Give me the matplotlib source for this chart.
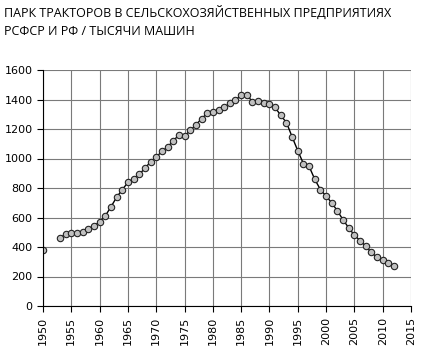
import numpy as np
import matplotlib
matplotlib.use("Agg")
import matplotlib.pyplot as plt

# tractor fleet, thousand units
years = [1950] + list(range(1953, 2013))
tractors = [
    381,
    462, 487, 496, 494, 505, 525, 543, 570, 611, 672,
    737, 789, 838, 863, 893, 933, 978, 1010, 1048, 1077,
    1120, 1159, 1152, 1190, 1228, 1269, 1307, 1314, 1330, 1346,
    1375, 1397, 1429, 1429, 1386, 1391, 1377, 1368, 1346, 1292,
    1244, 1147, 1053, 965, 947, 859, 789, 746, 699, 645,
    584, 530, 480, 444, 406, 363, 329, 311, 291, 273,
]
title = "ПАРК ТРАКТОРОВ В СЕЛЬСКОХОЗЯЙСТВЕННЫХ ПРЕДПРИЯТИЯХ\nРСФСР И РФ / ТЫСЯЧИ МАШИН"

# 1951-1952 missing -> break the line after 1950
x = np.array([1950, np.nan] + years[1:], dtype=float)
y = np.array([tractors[0], np.nan] + tractors[1:], dtype=float)

fig = plt.figure(figsize=(4.32, 3.63), dpi=100)
ax = fig.add_axes([43 / 432, 57 / 363, 368 / 432, 236 / 363])

ax.plot(x, y, color="black", lw=1.0, marker="o", markersize=4.6,
        markerfacecolor="#c0c0c0", markeredgecolor="#222222", markeredgewidth=0.8)

ax.set_xlim(1950, 2015)
ax.set_ylim(0, 1600)
ax.set_xticks(range(1950, 2016, 5))
ax.set_yticks(range(0, 1601, 200))
ax.grid(True, color="#7a7a7a", lw=0.8)
ax.set_axisbelow(True)
for s in ["top", "right"]:
    ax.spines[s].set_visible(False)
ax.spines["left"].set_color("black")
ax.spines["bottom"].set_color("black")
ax.tick_params(axis="both", labelsize=8, length=4, color="black")
plt.setp(ax.get_xticklabels(), rotation=90)

fig.text(4 / 432, 1 - 6 / 363, title, ha="left", va="top", fontsize=9,
         family="Open Sans", linespacing=1.5)

fig.savefig("out.png", dpi=100)
